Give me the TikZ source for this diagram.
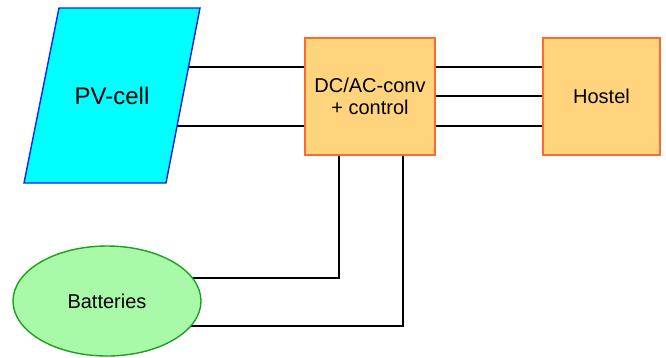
\documentclass[tikz,border=0pt]{standalone}
\usepackage{fontspec}
\setmainfont{Liberation Sans}
\usetikzlibrary{shapes.geometric,backgrounds}
\definecolor{pvfill}{RGB}{0,255,255}
\definecolor{pvline}{RGB}{20,30,255}
\definecolor{boxfill}{RGB}{255,212,125}
\definecolor{boxline}{RGB}{255,105,45}
\definecolor{batfill}{RGB}{168,249,168}
\definecolor{batline}{RGB}{30,160,30}
\tikzset{
  wire/.style={line width=1.8pt,black},
  pvshape/.style={fill=pvfill, draw=pvline, line width=1.4pt, line join=miter},
  pvtext/.style={inner sep=0pt, font=\fontsize{24}{28}\selectfont},
  unitbox/.style={rectangle, fill=boxfill, draw=boxline, line width=1.4pt, inner sep=0pt,
    font=\fontsize{20}{22}\selectfont, align=center},
  batshape/.style={ellipse, fill=batfill, draw=batline, line width=1.4pt, minimum width=188pt, minimum height=110pt,
    inner sep=0pt, font=\fontsize{20}{24}\selectfont}
}
\begin{document}
\begin{tikzpicture}[x=1pt,y=-1pt]
\useasboundingbox (0,0) rectangle (666,357);
\path[pvshape] (59,8) -- (200,8) -- (166,183) -- (24,183) -- cycle;
\node[pvtext] (pv) at (112,95.5) {PV-cell};
\node[unitbox, minimum width=130pt, minimum height=117pt] (dc) at (370,96.5) {DC/AC-conv\\+ control};
\node[unitbox, minimum width=117pt, minimum height=117pt] (host) at (601.5,96.5) {Hostel};
\node[batshape] (bat) at (107,301) {Batteries};
\begin{scope}[on background layer]
  \draw[wire] ([yshift=29.5pt]dc.west) -- ([yshift=29.5pt]dc.west -| pv.center);
  \draw[wire] ([yshift=-29.5pt]dc.west) -- ([yshift=-29.5pt]dc.west -| pv.center);
  \draw[wire] ([yshift=29.5pt]dc.east) -- ([yshift=29.5pt]host.west);
  \draw[wire] ([yshift=0.5pt]dc.east) -- ([yshift=0.5pt]host.west);
  \draw[wire] ([yshift=-29.5pt]dc.east) -- ([yshift=-29.5pt]host.west);
  \draw[wire] ([xshift=-31pt]dc.south) |- ([yshift=23pt]bat.center);
  \draw[wire] ([xshift=33pt]dc.south) |- ([yshift=-25pt]bat.center);
\end{scope}
\end{tikzpicture}
\end{document}
